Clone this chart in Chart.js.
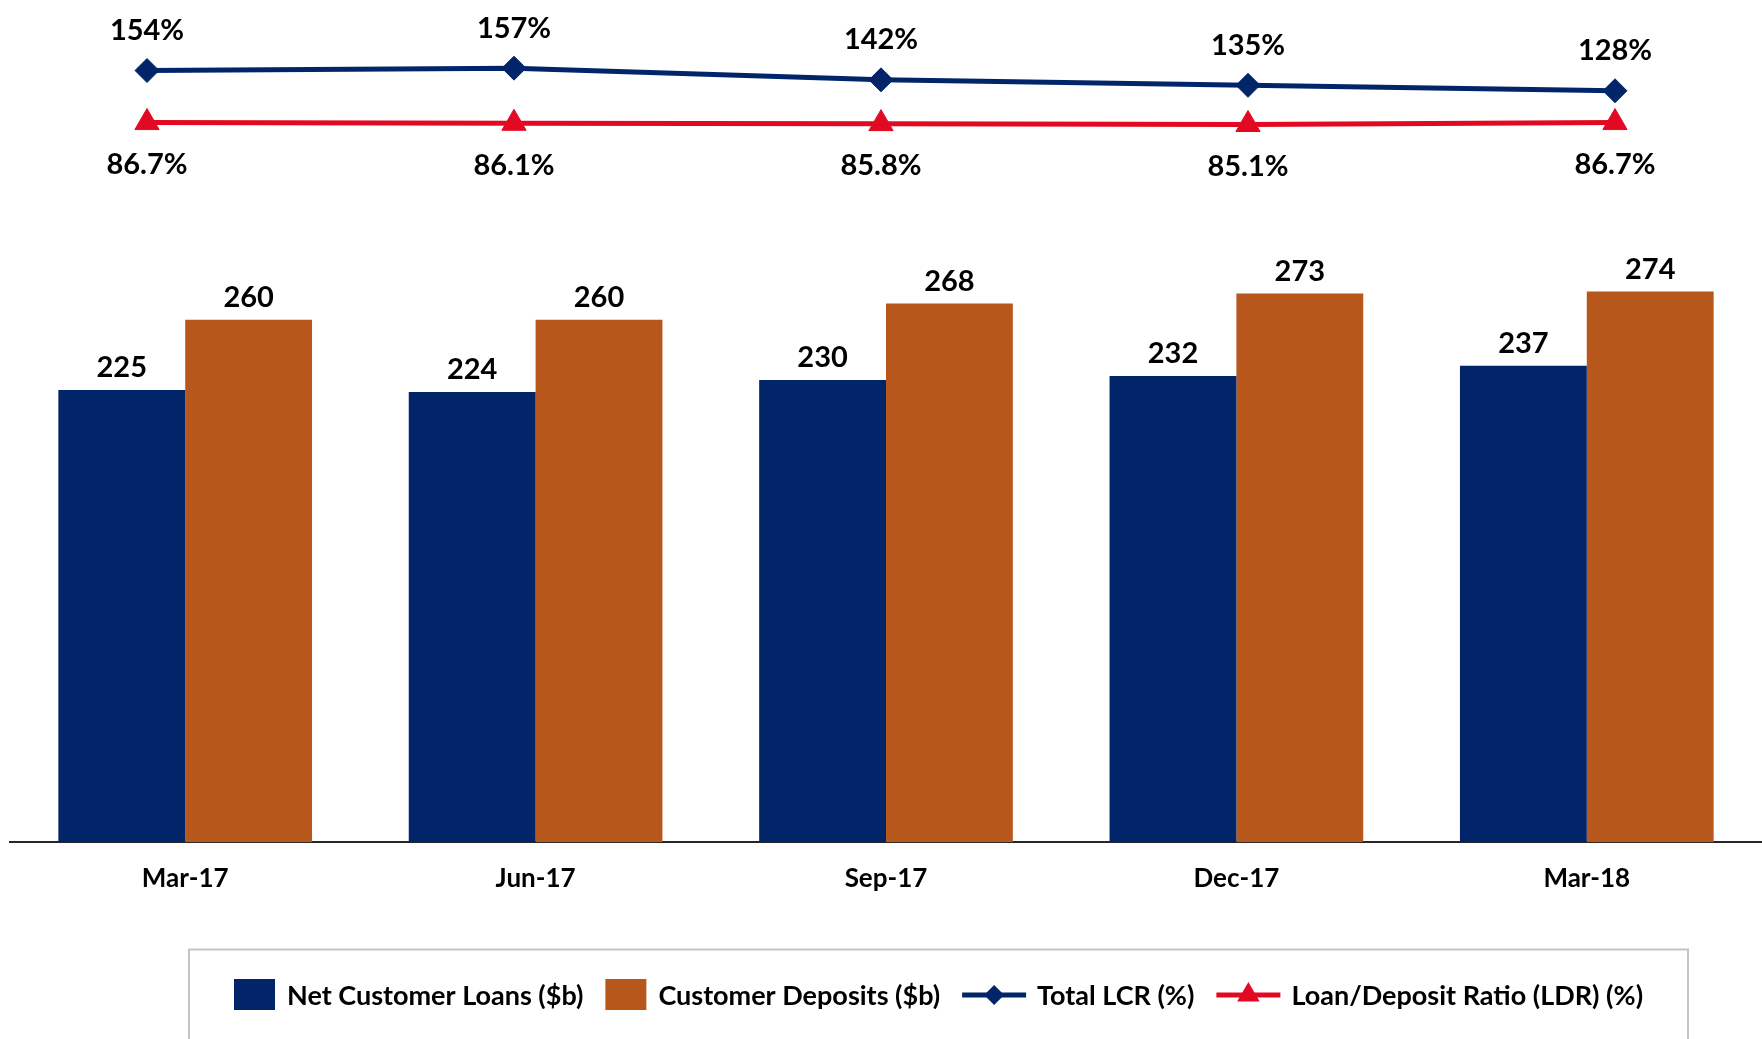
<!DOCTYPE html>
<html>
<head>
<meta charset="utf-8">
<script src="https://cdn.jsdelivr.net/npm/chart.js@4/dist/chart.umd.min.js"></script>
<style>
  html, body { margin: 0; padding: 0; background: #ffffff; overflow: hidden; }
  #wrap { width: 1762px; height: 1039px; position: relative; }
  canvas { display: block; position: absolute; left: 0; top: 0; }
</style>
</head>
<body>
<div id="wrap">
  <canvas id="bars" width="1762" height="1039"></canvas>
  <canvas id="lines" width="1762" height="1039"></canvas>
</div>
<script>
const categories = ['Mar-17', 'Jun-17', 'Sep-17', 'Dec-17', 'Mar-18'];
const netCustomerLoans = [225, 224, 230, 232, 237];
const customerDeposits = [260, 260, 268, 273, 274];
const totalLCR = [154, 157, 142, 135, 128];
const loanDepositRatio = [86.7, 86.1, 85.8, 85.1, 86.7];
const seriesNames = ['Net Customer Loans ($b)', 'Customer Deposits ($b)', 'Total LCR (%)', 'Loan/Deposit Ratio (LDR) (%)'];

const NAVY = '#02256A';
const ORANGE = '#B8571B';
const RED = '#E20A22';
const FONT = 'Lato, "Open Sans", "DejaVu Sans", sans-serif';

const legendItems = [
  { label: seriesNames[0], kind: 'box', color: NAVY },
  { label: seriesNames[1], kind: 'box', color: ORANGE },
  { label: seriesNames[2], kind: 'line', color: NAVY, marker: 'rectRot' },
  { label: seriesNames[3], kind: 'line', color: RED, marker: 'triangle' }
];

const valueLabels = {
  id: 'valueLabels',
  afterDatasetsDraw(chart) {
    const ctx = chart.ctx;
    chart.data.datasets.forEach((ds, i) => {
      const meta = chart.getDatasetMeta(i);
      const cfg = ds.valueLabel;
      if (!cfg) return;
      ctx.save();
      ctx.font = 'bold 29px ' + FONT;
      ctx.fillStyle = '#000000';
      ctx.textAlign = 'center';
      ctx.textBaseline = 'middle';
      meta.data.forEach((el, j) => {
        ctx.fillText(cfg.format(ds.data[j]), el.x, el.y + cfg.dy);
      });
      ctx.restore();
    });
  }
};

function drawMarker(ctx, style, x, y, r, color) {
  ctx.save();
  ctx.fillStyle = color;
  ctx.beginPath();
  if (style === 'rectRot') {
    ctx.moveTo(x, y - r); ctx.lineTo(x + r, y); ctx.lineTo(x, y + r); ctx.lineTo(x - r, y);
  } else {
    ctx.moveTo(x, y - r); ctx.lineTo(x + r * 0.866, y + r * 0.5); ctx.lineTo(x - r * 0.866, y + r * 0.5);
  }
  ctx.closePath();
  ctx.fill();
  ctx.restore();
}

const boxLegend = {
  id: 'boxLegend',
  afterDraw(chart) {
    const ctx = chart.ctx;
    ctx.save();
    ctx.strokeStyle = '#C4C4C4';
    ctx.lineWidth = 2;
    ctx.strokeRect(189, 949.5, 1499, 120);
    ctx.font = 'bold 27px ' + FONT;
    ctx.textBaseline = 'middle';
    ctx.textAlign = 'left';
    const cy = 995;
    let x = 234;
    legendItems.forEach((it) => {
      if (it.kind === 'box') {
        ctx.fillStyle = it.color;
        ctx.fillRect(x, cy - 16, 41, 31);
        x += 41 + 12;
      } else {
        ctx.strokeStyle = it.color;
        ctx.lineWidth = 5;
        ctx.beginPath();
        ctx.moveTo(x, cy); ctx.lineTo(x + 64, cy);
        ctx.stroke();
        drawMarker(ctx, it.marker, x + 32, cy, it.marker === 'rectRot' ? 10 : 13, it.color);
        x += 64 + 11;
      }
      ctx.fillStyle = '#000000';
      ctx.fillText(it.label, x, cy + 1);
      x += ctx.measureText(it.label).width + 22;
    });
    ctx.restore();
  }
};

function build() {
  new Chart(document.getElementById('bars').getContext('2d'), {
    type: 'bar',
    data: {
      labels: categories,
      datasets: [
        {
          label: seriesNames[0], data: netCustomerLoans, backgroundColor: NAVY,
          categoryPercentage: 0.724, barPercentage: 1.0,
          valueLabel: { dy: -22, format: v => String(v) }
        },
        {
          label: seriesNames[1], data: customerDeposits, backgroundColor: ORANGE,
          categoryPercentage: 0.724, barPercentage: 1.0,
          valueLabel: { dy: -22, format: v => String(v) }
        }
      ]
    },
    options: {
      responsive: false,
      animation: false,
      devicePixelRatio: 1,
      layout: { autoPadding: false, padding: { left: 10, right: 0, top: 0, bottom: 123.5 } },
      plugins: { legend: { display: false }, tooltip: { enabled: false } },
      scales: {
        x: {
          type: 'category', offset: true,
          grid: { display: false, drawTicks: false },
          border: { display: true, color: '#262626', width: 2 },
          ticks: { color: '#000000', padding: 21, font: { family: FONT, size: 26, weight: 'bold' } }
        },
        y: { display: false, min: 0, max: 419 }
      }
    },
    plugins: [valueLabels, boxLegend]
  });

  new Chart(document.getElementById('lines').getContext('2d'), {
    type: 'line',
    data: {
      labels: categories,
      datasets: [
        {
          label: seriesNames[2], data: totalLCR,
          borderColor: NAVY, backgroundColor: NAVY, borderWidth: 5,
          pointStyle: 'rectRot', pointRadius: 12, pointBorderWidth: 1,
          pointBackgroundColor: NAVY, pointBorderColor: NAVY,
          tension: 0, fill: false, yAxisID: 'y2',
          valueLabel: { dy: -40, format: v => v + '%' }
        },
        {
          label: seriesNames[3], data: loanDepositRatio,
          borderColor: RED, backgroundColor: RED, borderWidth: 5,
          pointStyle: 'triangle', pointRadius: 14, pointBorderWidth: 1,
          pointBackgroundColor: RED, pointBorderColor: RED,
          tension: 0, fill: false, yAxisID: 'y3',
          valueLabel: { dy: 42, format: v => v.toFixed(1) + '%' }
        }
      ]
    },
    options: {
      responsive: false,
      animation: false,
      devicePixelRatio: 1,
      layout: { autoPadding: false, padding: { left: 147, right: 147, top: 0, bottom: 199 } },
      plugins: { legend: { display: false }, tooltip: { enabled: false } },
      scales: {
        x: { type: 'category', display: false, offset: false },
        y2: { display: false, min: -832.6, max: 244.4 },
        y3: { display: false, min: -511, max: 188.8 }
      }
    },
    plugins: [valueLabels]
  });
}

if (document.fonts && document.fonts.load) {
  Promise.all([
    document.fonts.load('bold 29px Lato'),
    document.fonts.load('bold 27px Lato')
  ]).then(build, build);
} else {
  build();
}
</script>
</body>
</html>
